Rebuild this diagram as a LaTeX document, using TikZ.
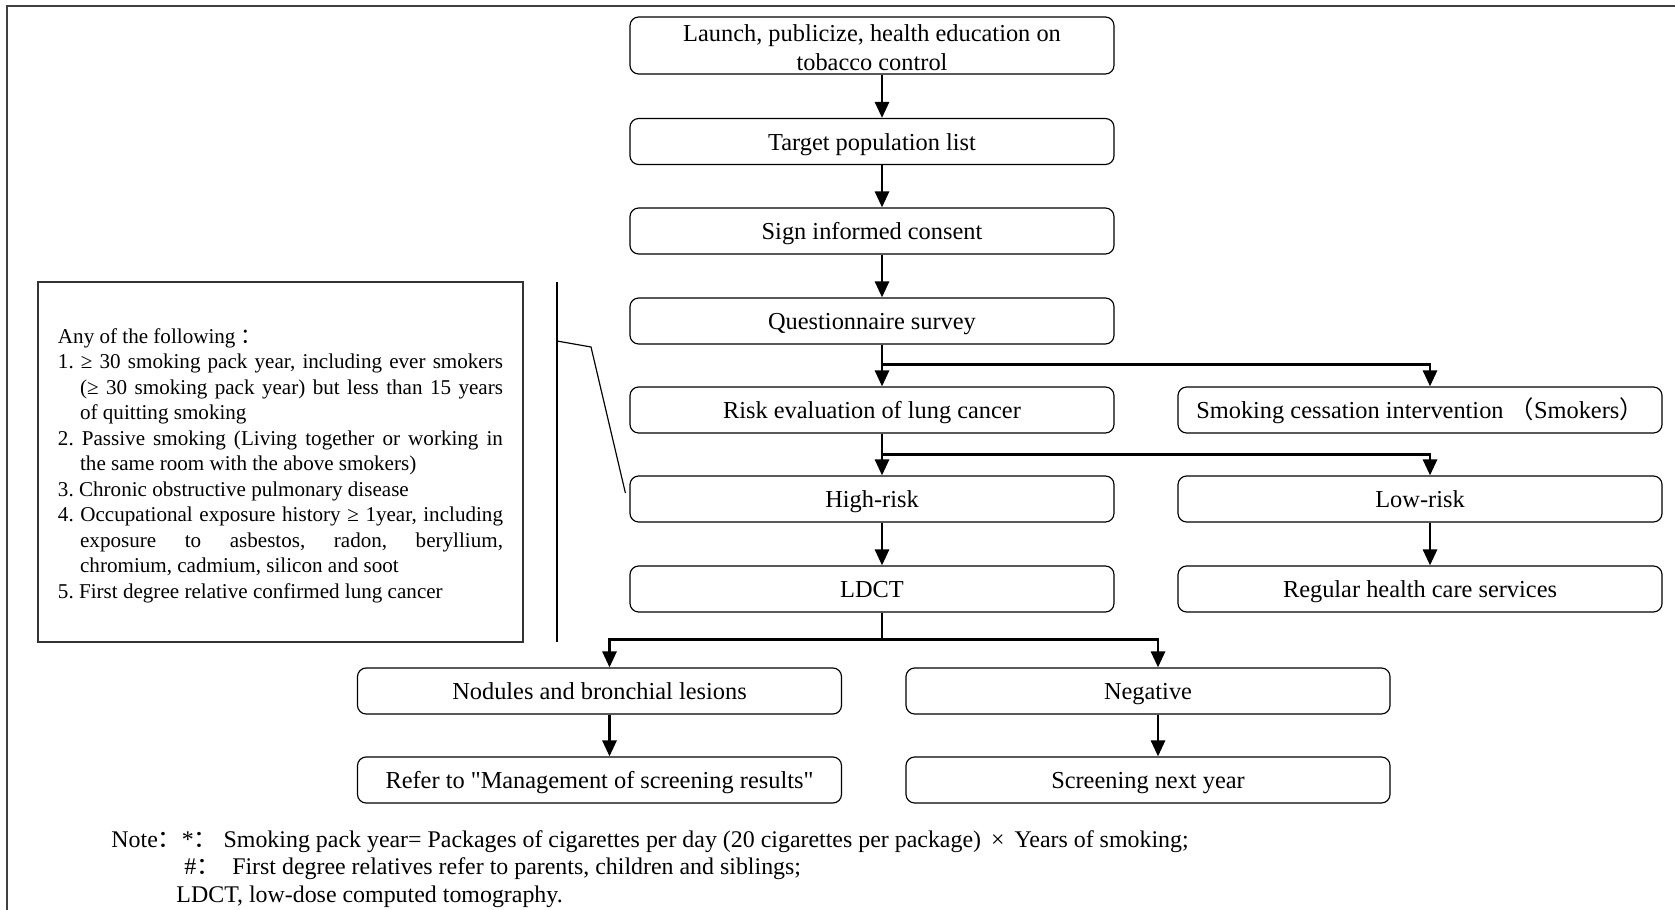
\documentclass[tikz,border=0pt]{standalone}
\usepackage{fontspec}
\setmainfont{Liberation Serif}
\newfontfamily\rawserif{Liberation Serif}[Ligatures=TeXOff]
\newfontfamily\cjk{Noto Sans CJK SC}
\usetikzlibrary{arrows.meta}

\newcommand{\fullline}[1]{\makebox[66.75mm][s]{#1}}
\newcommand{\hangline}[1]{\hspace*{1.05em}\makebox[\dimexpr66.75mm-1.05em\relax][s]{#1}}
\newcommand{\hangrest}[1]{\hspace*{1.05em}#1}

\begin{document}
\begin{tikzpicture}[x=0.15mm, y=-0.15mm,
    boxframe/.style={draw, rounded corners=1.3mm, line width=0.5pt, minimum width=72.6mm,
      minimum height=6.9mm, inner sep=0pt, align=center, font=\fontsize{10.4}{12.3}\selectfont},
    box/.style={boxframe, text height=0.75em, text depth=0pt},
    arr/.style={line width=1.2pt, -{Triangle[length=2.4mm,width=2.1mm]}},
    notetext/.style={anchor=west, inner sep=0pt, font=\fontsize{10.2}{12}\selectfont}]
    \useasboundingbox (0,0) rectangle (1675,910);

    % frame
    \draw [line width=0.3mm, black!75] (7,910) -- (7,6) -- (1675,6);

    % main column
    \node [boxframe, minimum height=8.55mm] (launch) at (872,45.5) {\rule{0pt}{9pt}Launch, publicize, health education on\\tobacco control};
    \node [box] (target) at (872,141.5) {Target population list};
    \node [box] (consent) at (872,231) {Sign informed consent};
    \node [box] (survey) at (872,321) {Questionnaire survey};
    \node [box] (risk) at (872,410) {Risk evaluation of lung cancer};
    \node [box] (high) at (872,499) {High-risk};
    \node [box] (ldct) at (872,589) {LDCT};

    % right column
    \node [box] (cessation) at (1420,410) {Smoking cessation intervention {\cjk （}Smokers{\cjk ）}};
    \node [box] (low) at (1420,499) {Low-risk};
    \node [box] (regular) at (1420,589) {Regular health care services};

    % results
    \node [box] (nodules) at (599.5,691) {Nodules and bronchial lesions};
    \node [box] (negative) at (1148,691) {Negative};
    \node [box] (refer) at (599.5,780) {Refer to {\rawserif"}Management of screening results{\rawserif"}};
    \node [box] (next) at (1148,780) {Screening next year};

    \draw [arr] ([xshift=1.5mm]launch.south) -- ([xshift=1.5mm]target.north);
    \draw [arr] ([xshift=1.5mm]target.south) -- ([xshift=1.5mm]consent.north);
    \draw [arr] ([xshift=1.5mm]consent.south) -- ([xshift=1.5mm]survey.north);
    \draw [arr] ([xshift=1.5mm]survey.south) -- ([xshift=1.5mm]risk.north);
    \draw [arr] ([xshift=1.5mm]survey.south) -- ++(0,-3mm) -| ([xshift=1.5mm]cessation.north);
    \draw [arr] ([xshift=1.5mm]risk.south) -- ([xshift=1.5mm]high.north);
    \draw [arr] ([xshift=1.5mm]risk.south) -- ++(0,-3.15mm) -| ([xshift=1.5mm]low.north);
    \draw [arr] ([xshift=1.5mm]high.south) -- ([xshift=1.5mm]ldct.north);
    \draw [arr] ([xshift=1.5mm]low.south) -- ([xshift=1.5mm]regular.north);
    \draw [arr] ([xshift=1.5mm]ldct.south) -- ++(0,-4mm) -| ([xshift=1.5mm]nodules.north);
    \draw [arr] ([xshift=1.5mm]ldct.south) -- ++(0,-4mm) -| ([xshift=1.5mm]negative.north);
    \draw [arr] ([xshift=1.5mm]nodules.south) -- ([xshift=1.5mm]refer.north);
    \draw [arr] ([xshift=1.5mm]negative.south) -- ([xshift=1.5mm]next.north);

    % criteria of high risk
    \node [draw, line width=0.6pt, black!80, text=black, minimum width=72.75mm, inner xsep=3mm,
      minimum height=54mm, align=left, font=\fontsize{9}{10.9}\selectfont\frenchspacing] (criteria) at (280.5,462) {%
      \rule{0pt}{3.3mm}Any of the following\ {\cjk ：}\\
      \fullline{1. ≥ 30 smoking pack year, including ever smokers}\\
      \hangline{(≥ 30 smoking pack year) but less than 15 years}\\
      \hangrest{of quitting smoking}\\
      \fullline{2. Passive smoking (Living together or working in}\\
      \hangrest{the same room with the above smokers)}\\
      3. Chronic obstructive pulmonary disease\\
      \fullline{4. Occupational exposure history ≥ 1year, including}\\
      \hangline{exposure to asbestos, radon, beryllium,}\\
      \hangrest{chromium, cadmium, silicon and soot}\\
      5. First degree relative confirmed lung cancer};

    \coordinate (rtop) at (557,282);
    \coordinate (rbot) at (557,642);
    \coordinate (brace) at (557,341);
    \coordinate (kink) at (591,347);
    \draw [line width=0.5pt] (rtop) -- (rbot);
    \draw [line width=0.5pt] (brace) -- (kink) -- ([xshift=-0.6mm,yshift=0.9mm]high.west);

    % notes
    \node [notetext] (note1) at (111,842) {Note{\cjk ：}*{\cjk ：}\ Smoking pack year= Packages of cigarettes per day (20 cigarettes per package) \,×\, Years of smoking;};
    \node [notetext] (note2) at (184,869) {\#{\cjk ：}\ \ First degree relatives refer to parents, children and siblings;};
    \node [notetext] (note3) at (176,897) {LDCT, low-dose computed tomography.};
\end{tikzpicture}
\end{document}
